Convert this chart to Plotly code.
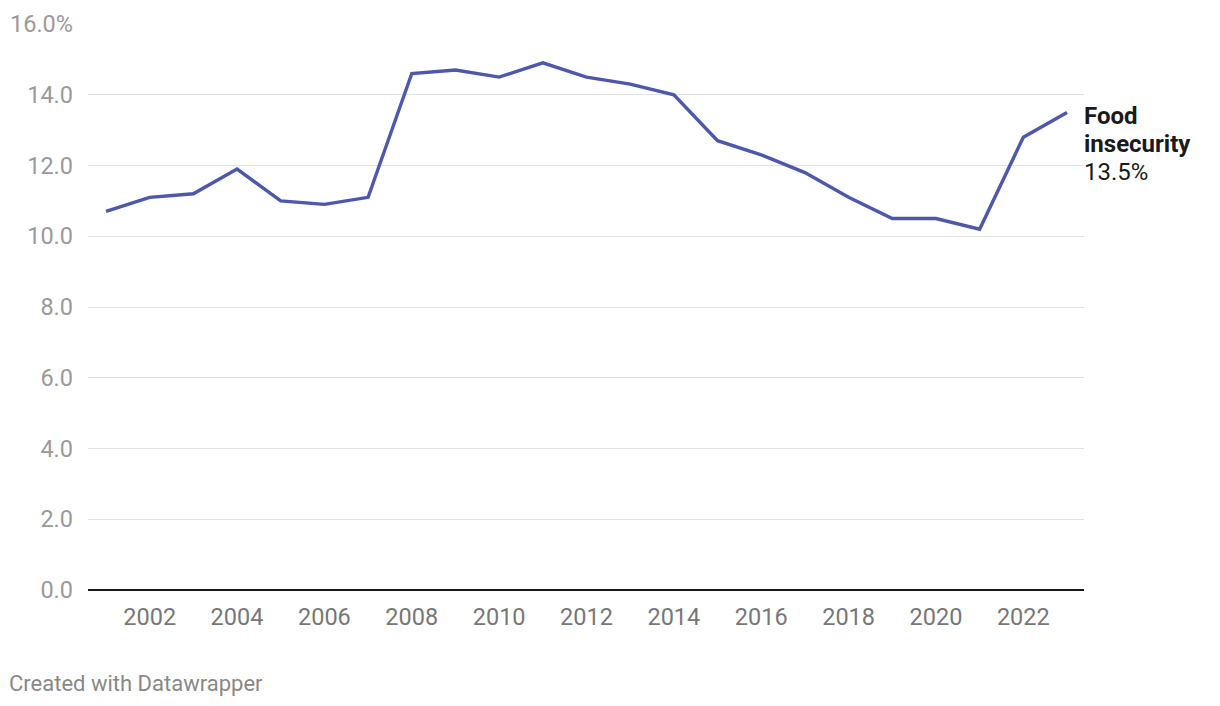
import plotly.graph_objects as go

years = list(range(2001, 2024))
food_insecurity = [10.7, 11.1, 11.2, 11.9, 11.0, 10.9, 11.1, 14.6, 14.7, 14.5, 14.9, 14.5,
                   14.3, 14.0, 12.7, 12.3, 11.8, 11.1, 10.5, 10.5, 10.2, 12.8, 13.5]
y_tickvals = [0, 2, 4, 6, 8, 10, 12, 14, 16]
y_ticktext = ["0.0", "2.0", "4.0", "6.0", "8.0", "10.0", "12.0", "14.0", "16.0%"]
x_tickvals = list(range(2002, 2024, 2))
label_lines = ["<b>Food</b>", "<b>insecurity</b>", "13.5%"]

fig = go.Figure()
fig.add_trace(go.Scatter(
    x=years, y=food_insecurity, mode="lines", name="Food insecurity",
    line=dict(color="#4c57ad", width=3.4), hoverinfo="x+y",
))

for i, txt in enumerate(label_lines):
    fig.add_annotation(
        x=years[-1], y=food_insecurity[-1], xref="x", yref="y",
        text=txt, showarrow=False, xanchor="left", yanchor="middle", align="left",
        xshift=15, yshift=-4 - 28 * i,
        font=dict(family="Roboto", size=24, color="#1a1a1a"),
    )

fig.add_annotation(
    x=0, y=0, xref="paper", yref="paper",
    text="Created with Datawrapper", showarrow=False,
    xanchor="left", yanchor="middle", xshift=-81, yshift=-93,
    font=dict(family="Roboto", size=22, color="#888888"),
)

fig.update_layout(
    width=1220, height=706,
    margin=dict(l=88, r=136, t=24, b=116, autoexpand=False),
    plot_bgcolor="white", paper_bgcolor="white",
    showlegend=False,
    font=dict(family="Roboto"),
    xaxis=dict(
        range=[2000.588, 2023.389], tickvals=x_tickvals, showgrid=False,
        zeroline=False, showline=False, ticks="", ticklabelstandoff=10,
        automargin=False,
        tickfont=dict(family="Roboto", size=23.5, color="#777777"),
    ),
    yaxis=dict(
        range=[0, 16], tickvals=y_tickvals, ticktext=y_ticktext,
        showgrid=True, gridcolor="#e3e3e3", gridwidth=1.3,
        zeroline=True, zerolinecolor="#1a1a1a", zerolinewidth=2,
        showline=False, ticks="", ticklabelstandoff=14, automargin=False,
        tickfont=dict(family="Roboto", size=23.5, color="#9a9a9a"),
    ),
)

fig.write_html("out.html")
